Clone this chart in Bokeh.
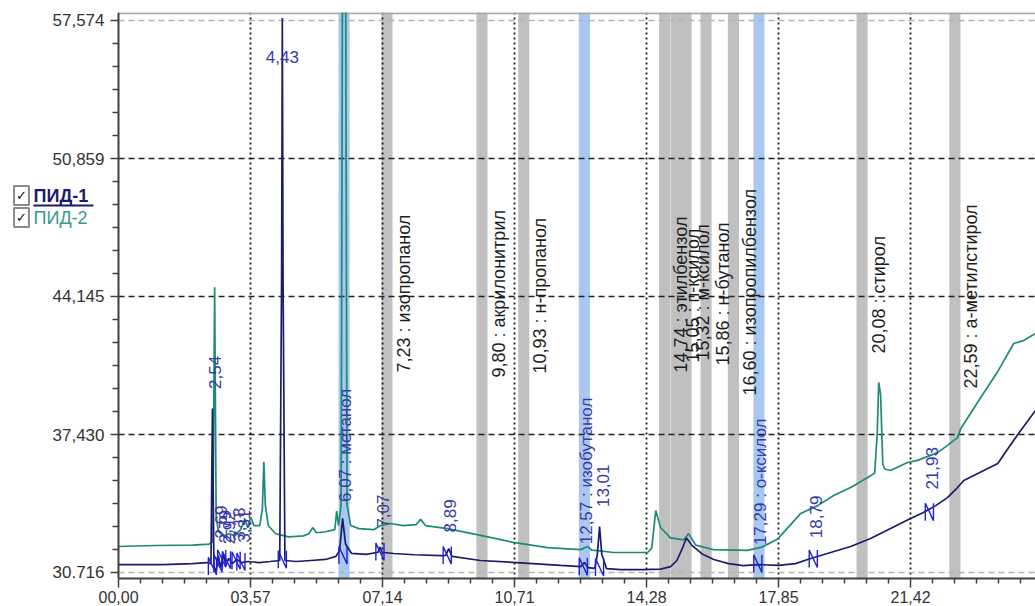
import numpy as np
from bokeh.plotting import figure
from bokeh.models import (Range1d, FixedTicker, CustomJSTickFormatter, Span, Label,
                          BoxAnnotation, ColumnDataSource)
from bokeh.core.properties import value
from bokeh.embed import file_html
from bokeh.resources import INLINE

# ---------------- data ----------------
x_ticks = [0.0, 3.57, 7.14, 10.71, 14.28, 17.85, 21.42, 24.99]
y_ticks = [30.716, 37.430, 44.145, 50.859, 57.574]

# ПИД-1 (dark blue trace)
pid1_t = [0.0, 1.2, 2.0, 2.40, 2.50, 2.54, 2.58, 2.64, 2.70, 2.76, 2.84, 2.90, 2.98, 3.08,
          3.20, 3.32, 3.50, 3.80, 4.10, 4.36, 4.41, 4.43, 4.45, 4.50, 4.80, 5.20, 5.60, 5.88,
          5.98, 6.06, 6.14, 6.30, 6.70, 7.02, 7.07, 7.13, 7.44, 8.00, 8.71, 8.85, 8.93, 9.02,
          9.79, 10.77, 11.96, 12.50, 12.60, 12.70, 12.88, 12.95, 13.01, 13.07, 13.20, 13.58,
          14.20, 14.66, 14.93, 15.10, 15.24, 15.36, 15.50, 15.80, 16.10, 16.50, 16.90, 17.29,
          17.85, 18.31, 18.72, 19.26, 19.80, 20.34, 20.88, 21.42, 21.77, 22.10, 22.42, 22.69,
          22.86, 23.40, 23.78, 24.00, 24.40, 24.80]
pid1_v = [31.10, 31.10, 31.15, 31.20, 31.15, 38.70, 31.00, 30.75, 31.55, 30.95, 31.60, 31.05,
          31.40, 31.15, 31.35, 31.20, 31.25, 31.20, 31.25, 31.30, 45.00, 57.70, 45.00, 31.30,
          31.25, 31.30, 31.35, 31.50, 31.80, 33.35, 32.10, 31.65, 31.60, 31.70, 31.95, 31.70,
          31.64, 31.58, 31.54, 31.55, 31.88, 31.50, 31.30, 31.20, 31.06, 31.00, 31.20, 30.95,
          30.92, 31.60, 32.95, 31.60, 30.90, 30.86, 30.86, 30.88, 31.00, 31.30, 31.85, 32.40,
          32.05, 31.60, 31.35, 31.15, 31.05, 31.10, 31.06, 31.15, 31.40, 31.69, 31.98, 32.37,
          32.86, 33.34, 33.64, 33.97, 34.36, 34.85, 35.19, 35.68, 36.02, 36.60, 37.63, 38.60]

# ПИД-2 (teal trace)
pid2_t = [0.00, 1.00, 2.00, 2.45, 2.55, 2.60, 2.64, 2.70, 2.85, 3.00, 3.15, 3.30, 3.42, 3.50,
          3.58, 3.66, 3.82, 3.89, 3.93, 3.97, 4.05, 4.25, 4.60, 5.00, 5.15, 5.25, 5.35, 5.60,
          5.85, 5.90, 5.95, 6.02, 6.06, 6.14, 6.18, 6.28, 6.50, 6.90, 7.09, 7.36, 7.70, 8.05,
          8.17, 8.30, 8.90, 9.79, 10.68, 11.60, 12.50, 12.69, 12.80, 12.96, 13.39, 14.31,
          14.42, 14.53, 14.66, 14.93, 15.28, 15.42, 15.61, 16.09, 17.01, 17.40, 17.83, 18.45,
          18.91, 19.34, 19.80, 20.26, 20.45, 20.52, 20.56, 20.61, 20.67, 20.72, 20.88, 21.34,
          21.61, 22.15, 22.42, 22.69, 22.78, 23.32, 23.78, 24.21, 24.48, 24.80]
pid2_v = [31.98, 32.03, 32.05, 32.10, 32.20, 44.60, 33.50, 32.70, 32.50, 32.60, 32.50, 32.80,
          33.30, 32.90, 33.40, 33.00, 33.00, 33.80, 36.10, 34.00, 33.00, 32.60, 32.45, 32.50,
          32.60, 32.90, 32.65, 32.70, 32.80, 33.70, 33.00, 34.00, 62.00, 62.00, 34.00, 33.00,
          32.85, 32.80, 33.00, 33.10, 33.00, 33.05, 33.30, 33.00, 32.85, 32.52, 32.18, 31.93,
          31.83, 31.98, 31.80, 31.78, 31.69, 31.69, 31.90, 33.73, 32.90, 32.40, 32.30, 32.61,
          32.05, 31.83, 31.79, 31.95, 32.35, 33.59, 33.97, 34.46, 34.85, 35.34, 35.55, 37.50,
          39.96, 39.40, 36.00, 35.75, 35.68, 36.07, 36.17, 36.55, 36.90, 37.28, 37.72, 39.23,
          40.50, 41.86, 42.00, 42.35]

# integrated ПИД-1 peaks (retention times, identified names)
peak_rt = [2.54, 2.69, 2.79, 2.92, 3.18, 3.31, 4.43, 6.07, 7.07, 8.89, 12.57, 13.01,
           17.29, 18.79, 21.93]
peak_name = ["", "", "", "", "", "", "", "метанол", "", "", "изобутанол", "",
             "о-ксилол", "", ""]

# expected (not found) compound windows
zone_rt = [7.23, 9.80, 10.93, 14.74, 15.05, 15.32, 15.86, 16.60, 20.08, 22.59]
zone_name = ["изопропанол", "акрилонитрил", "н-пропанол", "этилбензол", "п-ксилол",
             "м-ксилол", "н-бутанол", "изопропилбензол", "стирол", "а-метилстирол"]
zone_label_v = [40.45, 40.20, 40.40, 40.45, 40.93, 41.03, 40.79, 39.33, 41.37, 39.67]

legend_names = ["ПИД-1", "ПИД-2"]

# ---------------- styles ----------------
NAVY = "#1c1c6e"
TEAL = "#1f8a78"
LBLUE = "#3a3aa5"
MARK = "#2020d8"
GRAYBAND = "#c0c0c0"
BLUEBAND = "#a8c8f0"
FONT = "Liberation Sans"

X0, X1 = -3.192, 24.80
Y0, Y1 = 30.424, 57.963

p = figure(width=1035, height=606, output_backend="svg", toolbar_location=None,
           x_range=Range1d(X0, X1), y_range=Range1d(Y0, Y1),
           min_border_left=0, min_border_right=0, min_border_top=12, min_border_bottom=28)
p.background_fill_color = "white"
p.border_fill_color = "white"
p.outline_line_color = None
p.xgrid.visible = False
p.ygrid.visible = False


def fmt(v):
    return f"{v:.2f}".replace(".", ",")


# bands (underlay)
W_L, W_R = 0.12, 0.18
for rt in zone_rt:
    p.add_layout(BoxAnnotation(left=rt - W_L, right=rt + W_R, fill_color=GRAYBAND, fill_alpha=1.0,
                               line_color=None, level="underlay"))
for rt, nm in zip(peak_rt, peak_name):
    if nm:
        p.add_layout(BoxAnnotation(left=rt - W_L, right=rt + W_R, fill_color=BLUEBAND,
                                   fill_alpha=1.0, line_color=None, level="underlay"))

# vertical dotted grid
for t in x_ticks:
    if 0 < t < X1:
        p.add_layout(Span(location=t, dimension="height", line_color="#1a1a1a", line_width=1.8,
                          line_dash="2 3", level="underlay"))

# horizontal dashed grid (only right of the time axis origin)
inner = y_ticks[1:-1]
edges = [y_ticks[0], y_ticks[-1]]
p.segment(x0=[0] * len(inner), x1=[X1] * len(inner), y0=inner, y1=inner,
          line_color="#222222", line_width=1.3, line_dash="6 4")
p.segment(x0=[0] * len(edges), x1=[X1] * len(edges), y0=edges, y1=edges,
          line_color="#b4b4b4", line_width=1.3, line_dash="6 4")
# top frame border
p.segment(x0=[0], x1=[X1], y0=[Y1 - 0.04], y1=[Y1 - 0.04], line_color="#a8a8a8", line_width=2)

# traces
p.line(pid2_t, pid2_v, line_color=TEAL, line_width=1.7)
p.line(pid1_t, pid1_v, line_color=NAVY, line_width=1.7)

# integration markers
t1 = np.array(pid1_t)
v1 = np.array(pid1_v)
xs, ys = [], []
d = 0.11
for rt in peak_rt:
    vb = min(np.interp(rt - 0.22, t1, v1), np.interp(rt + 0.22, t1, v1))
    xs.append([rt - d, rt - d, rt + d, rt + d])
    ys.append([vb - 0.35, vb + 0.5, vb - 0.35, vb + 0.5])
p.multi_line(xs, ys, line_color=MARK, line_width=1.4)

# peak labels
rx, ry, rtxt = [], [], []
hx, hy, htxt = [], [], []
for rt, nm in zip(peak_rt, peak_name):
    h = float(np.interp(rt, t1, v1))
    txt = fmt(rt) + (" : " + nm if nm else "")
    if h > 50:
        hx.append(rt); hy.append(Y1 - 2.15); htxt.append(txt)
    else:
        rx.append(rt); ry.append(h + 0.95); rtxt.append(txt)
p.text(x="x", y="y", text="t", source=ColumnDataSource(dict(x=rx, y=ry, t=rtxt)),
       angle=np.pi / 2, x_offset=3, text_align="left", text_baseline="alphabetic",
       text_color=LBLUE, text_font=value(FONT), text_font_size="17px")
p.text(x="x", y="y", text="t", source=ColumnDataSource(dict(x=hx, y=hy, t=htxt)),
       text_align="center", text_baseline="alphabetic",
       text_color=LBLUE, text_font=value(FONT), text_font_size="17px")

# zone labels
zx = [rt + W_R for rt in zone_rt]
ztxt = [fmt(rt) + " : " + nm for rt, nm in zip(zone_rt, zone_name)]
p.text(x="x", y="y", text="t", source=ColumnDataSource(dict(x=zx, y=zone_label_v, t=ztxt)),
       angle=np.pi / 2, x_offset=1, text_align="left", text_baseline="top",
       text_color="#1e1e1e", text_font=value(FONT), text_font_size="18px")

# axes
minor_x = []
for a, b in zip(x_ticks[:-1], x_ticks[1:]):
    minor_x += list(np.linspace(a, b, 7)[1:-1])
minor_y = []
for a, b in zip(y_ticks[:-1], y_ticks[1:]):
    minor_y += list(np.linspace(a, b, 7)[1:-1])

p.yaxis.fixed_location = 0
p.xaxis.bounds = (0, X1)
p.xaxis.ticker = FixedTicker(ticks=x_ticks, minor_ticks=minor_x)
p.yaxis.ticker = FixedTicker(ticks=y_ticks, minor_ticks=minor_y)
p.xaxis.formatter = CustomJSTickFormatter(
    code="var s = tick.toFixed(2).replace('.', ','); return (tick < 9.995 ? '0' : '') + s;")
p.yaxis.formatter = CustomJSTickFormatter(code="return tick.toFixed(3).replace('.', ',');")
for ax in (p.xaxis[0], p.yaxis[0]):
    ax.axis_line_color = "#404040"
    ax.axis_line_width = 2
    ax.major_tick_line_color = "#404040"
    ax.minor_tick_line_color = "#404040"
    ax.major_tick_line_width = 1.5
    ax.minor_tick_line_width = 1.5
    ax.major_tick_in = 0
    ax.minor_tick_in = 0
    ax.major_label_text_font = FONT
    ax.major_label_text_color = "#333333"
p.xaxis.major_tick_out = 9
p.xaxis.minor_tick_out = 5
p.xaxis.major_label_standoff = 3
p.xaxis.major_label_text_font_size = "16px"
p.yaxis.major_tick_out = 8
p.yaxis.minor_tick_out = 6
p.yaxis.major_label_standoff = 6
p.yaxis.major_label_text_font_size = "17px"

# legend (checkbox list at the left, inside the frame area left of the time origin)
leg_colors = [NAVY, "#3a9a8a"]
leg_styles = ["bold", "normal"]
leg_y = [383, 361]
for nm, c, st, yy in zip(legend_names, leg_colors, leg_styles, leg_y):
    p.add_layout(Label(x=21, y=yy, x_units="screen", y_units="screen", text="✓",
                       text_align="center", text_baseline="middle", text_font="DejaVu Sans",
                       text_font_style="bold", text_font_size="13px", text_color="#111111",
                       border_line_color="#8a8a8a", border_line_width=2,
                       background_fill_color="white", padding=2))
    p.add_layout(Label(x=33, y=yy, x_units="screen", y_units="screen", text=nm,
                       text_align="left", text_baseline="middle", text_font=FONT,
                       text_font_style=st, text_font_size="18px", text_color=c))
p.add_layout(BoxAnnotation(left=33, right=93, bottom=372, top=374, left_units="screen",
                           right_units="screen", bottom_units="screen", top_units="screen",
                           fill_color=NAVY, fill_alpha=1.0, line_color=None))

open("out.html", "w").write(file_html(p, INLINE))
